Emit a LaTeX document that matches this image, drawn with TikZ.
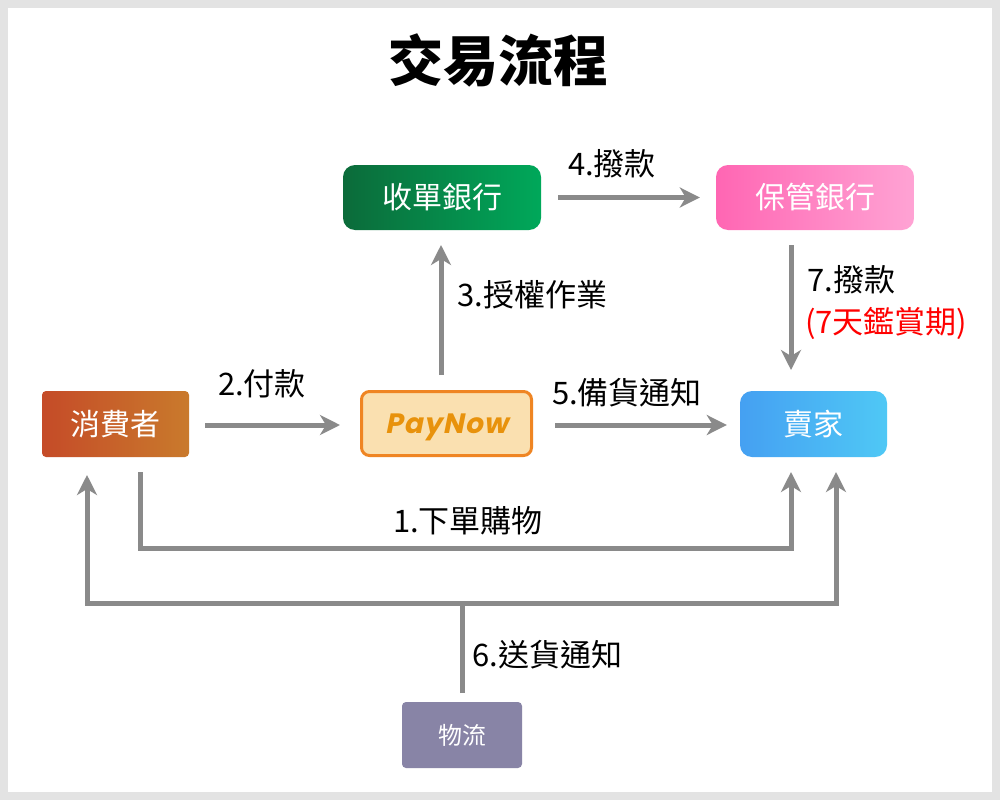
\documentclass[tikz,border=0pt]{standalone}
\usepackage{fontspec}
\setmainfont{Noto Sans CJK TC}
\newfontfamily\popfont[FakeSlant=0.2, LetterSpace=4]{Poppins}
\usetikzlibrary{arrows.meta}
\definecolor{framegray}{HTML}{E3E3E3}
\definecolor{arrowgray}{HTML}{8A8A8A}
\definecolor{acqL}{HTML}{0B6B3A}
\definecolor{acqR}{HTML}{00A85A}
\definecolor{custL}{HTML}{FF66B3}
\definecolor{custR}{HTML}{FFA3D4}
\definecolor{consL}{HTML}{C54B28}
\definecolor{consR}{HTML}{C97A2C}
\definecolor{payfill}{HTML}{FAE0B0}
\definecolor{payborder}{HTML}{EF8523}
\definecolor{paytext}{HTML}{E8920C}
\definecolor{sellL}{HTML}{45A0F2}
\definecolor{sellR}{HTML}{4FC8F5}
\definecolor{logfill}{HTML}{8884A6}
\definecolor{notered}{HTML}{FF0000}
\begin{document}
\begin{tikzpicture}[x=1pt,y=-1pt,
  boxtext/.style={text=white, font=\fontsize{30}{36}\selectfont, inner sep=0pt},
  bigbox/.style={boxtext, rounded corners=12pt, minimum width=198pt, minimum height=65pt},
  flow/.style={draw=arrowgray, line width=5pt, -{Stealth[length=20pt,width=20pt,inset=6pt]}},
  lbl/.style={font=\fontsize{31}{36}\selectfont, inner sep=0pt, text=black}
]
% frame
\fill[framegray] (0,0) rectangle (1000,800);
\fill[white] (8,8) rectangle (992,792);

% title
\node[font=\fontsize{55}{62}\selectfont\bfseries, inner sep=0pt] (title) at (498,60) {交易流程};

% boxes
\node[bigbox, left color=acqL, right color=acqR] (acq) at (442,197.5) {收單銀行};
\node[bigbox, left color=custL, right color=custR] (cust) at (815,197.5) {保管銀行};
\node[boxtext, rounded corners=4pt, minimum width=147pt, minimum height=66pt, left color=consL, right color=consR] (cons) at (115.5,424) {消費者};
\node[draw=payborder, line width=3pt, fill=payfill, rounded corners=8pt, minimum width=170pt, minimum height=64pt, inner sep=0pt,
      text height=19pt, text depth=0pt,
      text=paytext, font=\popfont\fontsize{28}{30}\selectfont\bfseries] (pay) at (446.5,423.5) {PayNow};
\node[boxtext, rounded corners=12pt, minimum width=147pt, minimum height=66pt, left color=sellL, right color=sellR] (sell) at (813.5,424) {賣家};
\node[boxtext, font=\fontsize{24}{28}\selectfont, rounded corners=4pt, minimum width=120pt, minimum height=66pt, fill=logfill] (log) at (462,735) {物流};

% coordinates for connector ends and bends
\coordinate (a1s) at (140,472);
\coordinate (a1e) at (791,472);
\coordinate (a6s) at (462,693);
\coordinate (a6m) at (462,603);
\coordinate (a6l) at (87,475);
\coordinate (a6r) at (836,472);
\coordinate (a3s) at (441,375);
\coordinate (a3e) at (441,245);
\coordinate (a7s) at (791,245);
\coordinate (a7e) at (791,370);

% connectors
\draw[flow] ([xshift=17pt]acq.east) -- ([xshift=-16pt]cust.west);
\draw[flow] (a3s) -- (a3e);
\draw[flow] (a7s) -- (a7e);
\draw[flow] ([xshift=16pt,yshift=-1pt]cons.east) -- ([xshift=-20pt,yshift=-1.5pt]pay.west);
\draw[flow] ([xshift=22pt,yshift=-1.5pt]pay.east) -- ([xshift=-13pt,yshift=-1pt]sell.west);
\draw[flow] (a1s) |- (468,548) -| (a1e);
\draw[flow] (a6s) -- (a6m) -| (a6l);
\draw[flow] (a6m) -| (a6r);

% labels
\node[lbl] (l4) at (612,164) {4.撥款};
\node[lbl, anchor=west] (l3) at (457,295) {3.授權作業};
\node[lbl, anchor=west] (l7) at (807,280) {7.撥款};
\node[lbl, anchor=west, text=notered] (l7b) at (805,323) {(7天鑑賞期)};
\node[lbl] (l2) at (262,384) {2.付款};
\node[lbl] (l5) at (627,393) {5.備貨通知};
\node[lbl] (l1) at (468,521) {1.下單購物};
\node[lbl, anchor=west] (l6) at (472,655) {6.送貨通知};
\end{tikzpicture}
\end{document}
